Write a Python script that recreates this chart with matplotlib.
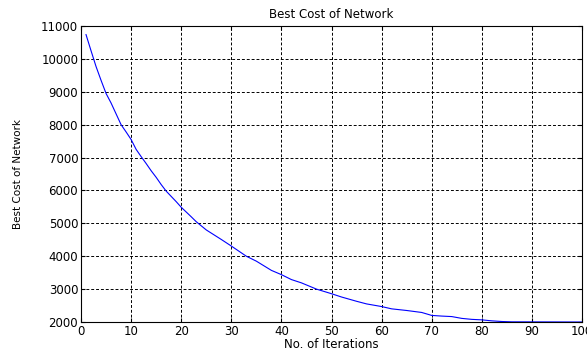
import matplotlib
matplotlib.use('Agg')
import matplotlib.pyplot as plt

# values
iterations = [1, 2, 3, 4, 5, 6, 7, 8, 9, 10, 11, 12, 13, 14, 15, 16, 17, 18, 19,
              20, 22, 23, 25, 28, 30, 33, 35, 38, 40, 42, 44, 47, 50, 52, 55, 57,
              60, 62, 65, 68, 70, 72, 74, 76, 78, 80, 82, 84, 86, 100]
best_cost = [10740, 10250, 9770, 9350, 8950, 8660, 8330, 8000, 7780, 7550, 7250,
             7030, 6820, 6600, 6400, 6180, 5980, 5820, 5660, 5490, 5200, 5050,
             4800, 4510, 4310, 4000, 3850, 3570, 3440, 3290, 3190, 3000, 2860,
             2760, 2630, 2550, 2470, 2400, 2350, 2290, 2200, 2180, 2165, 2110,
             2080, 2065, 2035, 2015, 2005, 2000]

plt.rcParams['font.family'] = ['DejaVu Sans']

fig = plt.figure(figsize=(5.87, 3.54), dpi=100)
ax = fig.add_axes([0.138, 0.0904, 0.8535, 0.836])

ax.plot(iterations, best_cost, color='blue', lw=0.8)
ax.set_xlim(0, 100)
ax.set_ylim(2000, 11000)
ax.set_xticks(range(0, 101, 10))
ax.set_yticks(range(2000, 11001, 1000))

ax.grid(True, color='black', linestyle=(0, (3, 2)), linewidth=0.7)
ax.tick_params(direction='in', top=True, right=True, labelsize=8.5, length=3, pad=2)
for s in ax.spines.values():
    s.set_linewidth(0.8)

ax.set_title('Best Cost of Network', fontsize=8.5, pad=6)
ax.set_xlabel('No. of Iterations', fontsize=8.5)
ax.set_ylabel('Best Cost of Network', fontsize=7.5)
ax.xaxis.set_label_coords(0.5, -0.054)
ax.yaxis.set_label_coords(-0.116, 0.5)

plt.savefig('out.png', dpi=100)
plt.close('all')
